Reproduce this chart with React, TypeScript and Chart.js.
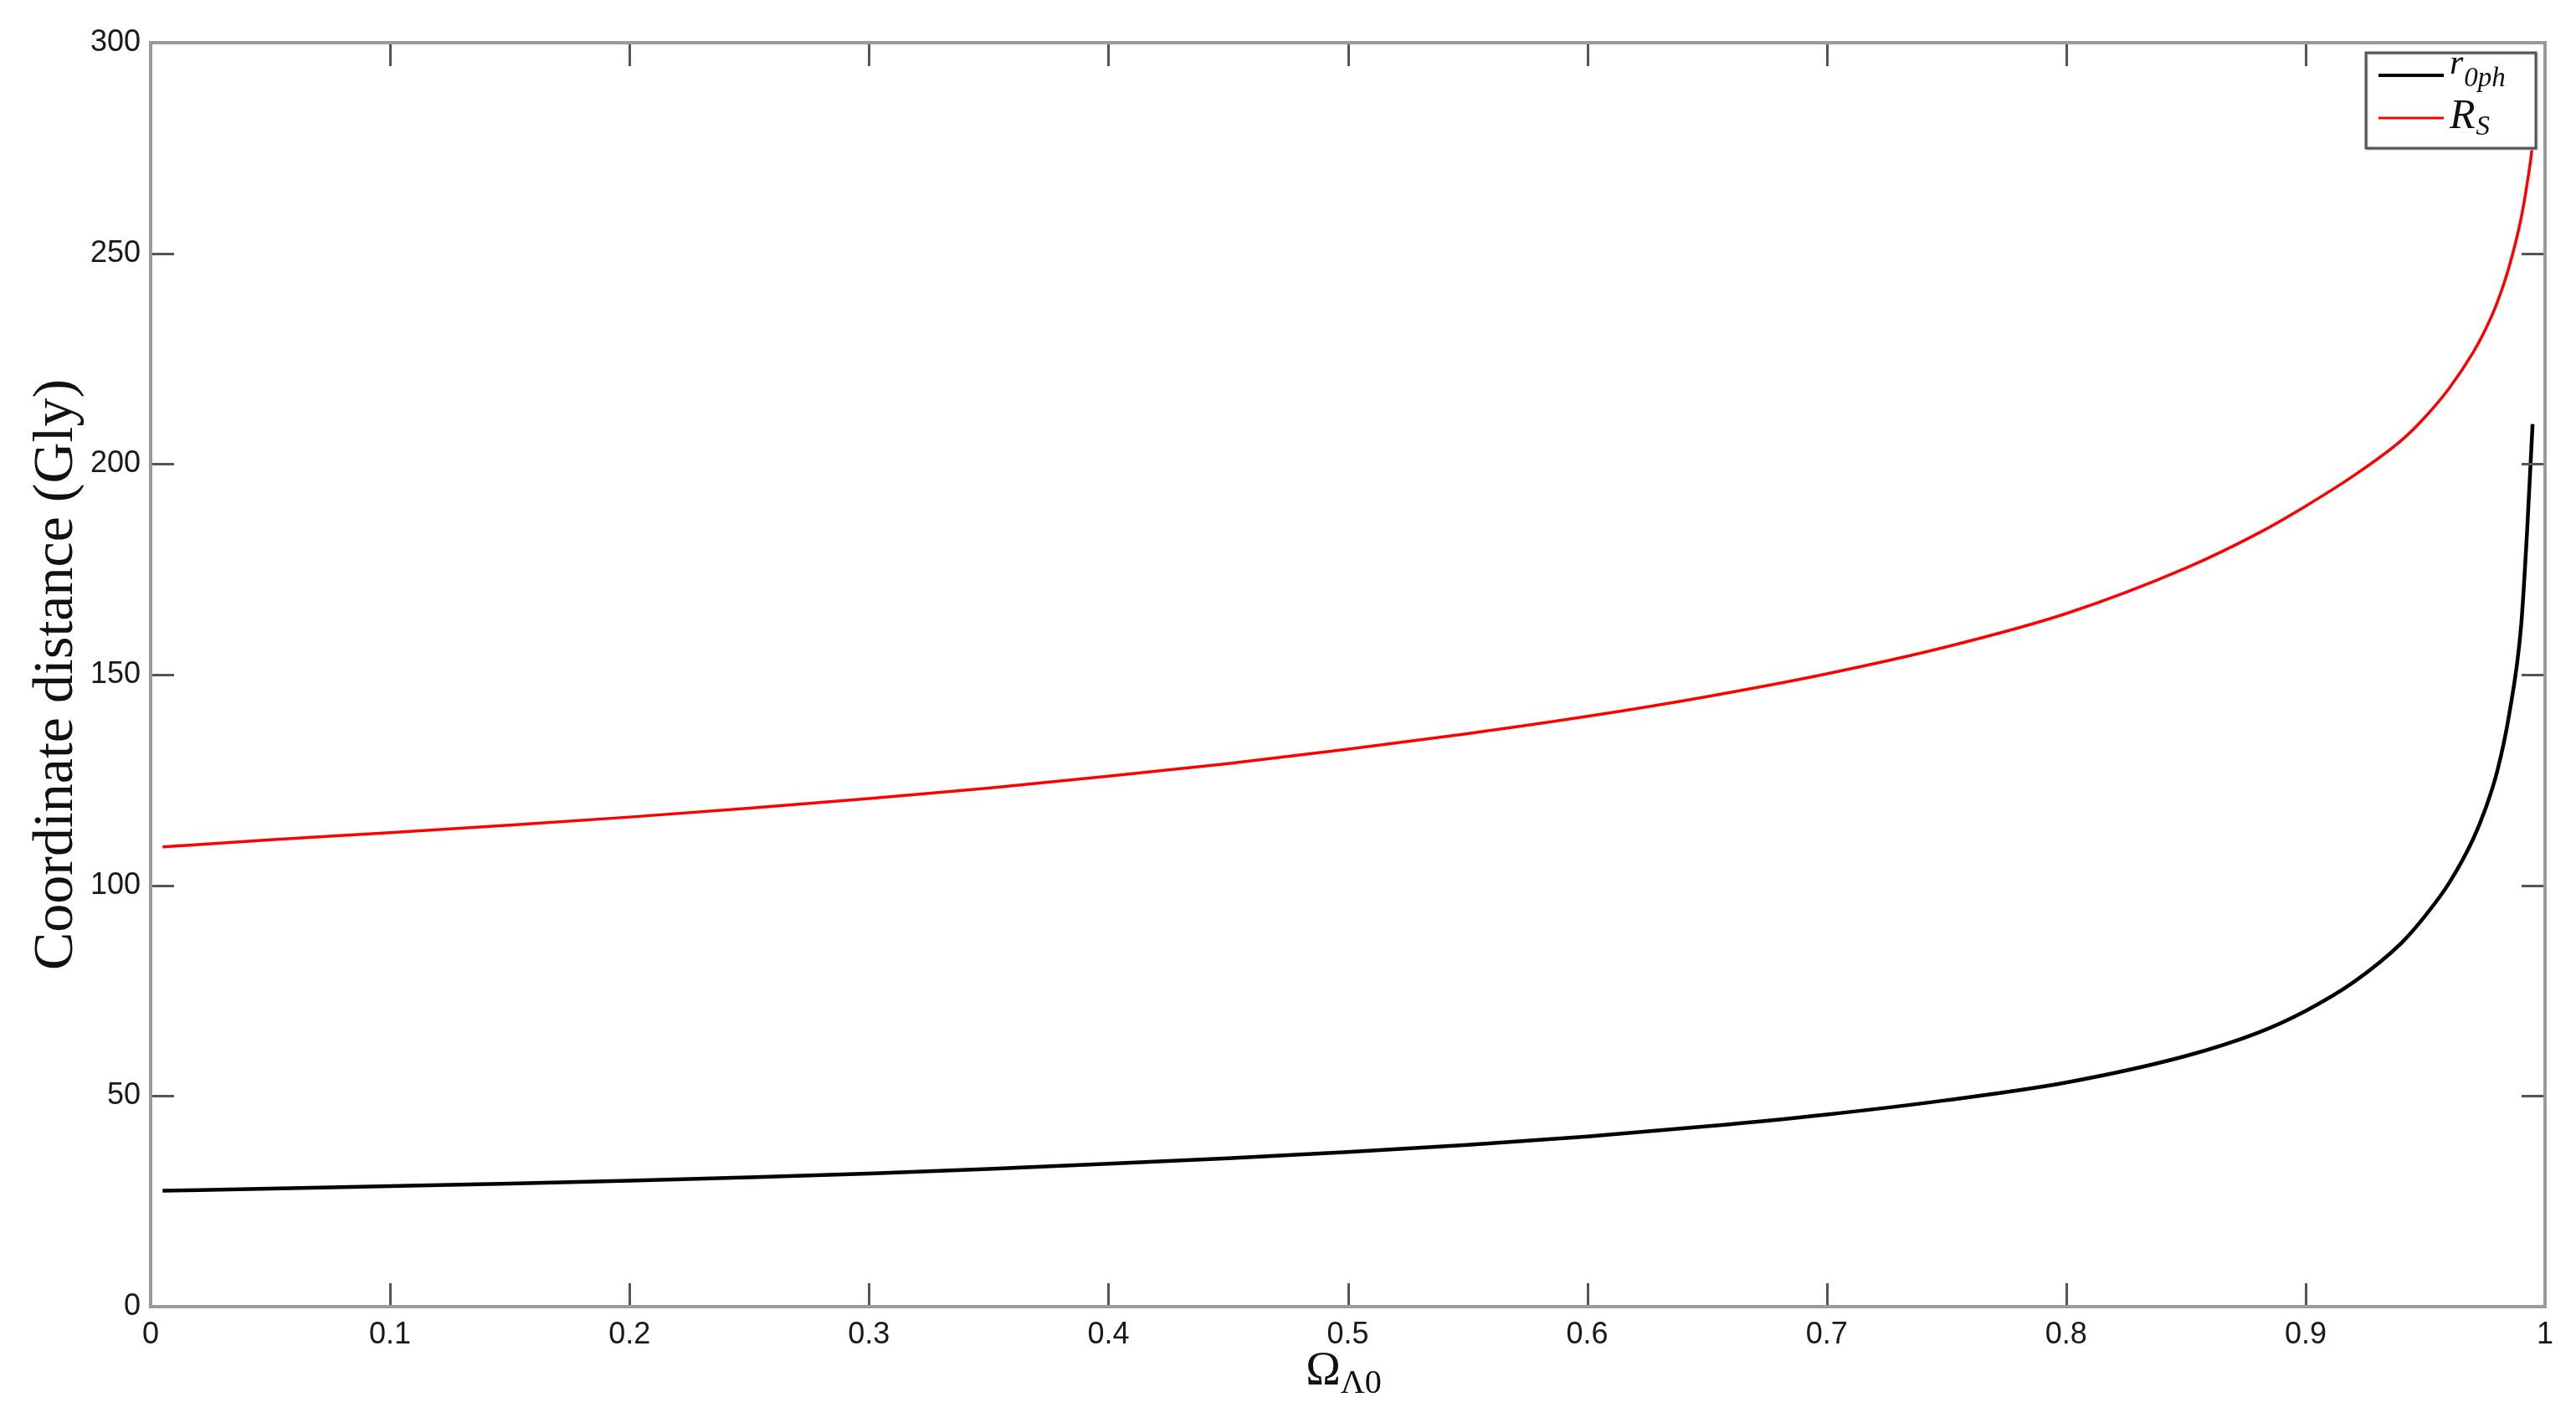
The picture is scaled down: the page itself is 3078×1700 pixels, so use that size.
import React, { useEffect, useRef } from "react";
import { Chart, registerables } from "chart.js";

Chart.register(...registerables);

// Ω_Λ0 values and curves
const omegaRS = [0.005, 0.05, 0.1, 0.15, 0.2, 0.25, 0.3, 0.35, 0.4, 0.45, 0.5, 0.55, 0.6, 0.65, 0.7, 0.75, 0.8, 0.85, 0.88, 0.9, 0.92, 0.94, 0.95, 0.96, 0.97, 0.975, 0.98, 0.985, 0.99, 0.9925, 0.995, 0.9962];
const rSValues = [109.1, 110.8, 112.5, 114.3, 116.2, 118.3, 120.6, 123.1, 125.9, 128.9, 132.3, 136, 140.1, 144.8, 150.2, 156.6, 164.5, 175.3, 183.5, 190, 197.2, 205.6, 211.2, 218, 226.5, 231.8, 238.3, 246.8, 258.3, 266.5, 277.5, 290];

const omegaR0 = [0.005, 0.05, 0.1, 0.15, 0.2, 0.25, 0.3, 0.35, 0.4, 0.45, 0.5, 0.55, 0.6, 0.65, 0.7, 0.75, 0.8, 0.85, 0.88, 0.9, 0.92, 0.94, 0.95, 0.96, 0.97, 0.975, 0.98, 0.985, 0.99, 0.9925, 0.9948];
const r0phValues = [27.5, 28.0, 28.6, 29.2, 29.9, 30.7, 31.6, 32.7, 33.9, 35.2, 36.7, 38.4, 40.4, 42.8, 45.6, 49.0, 53.2, 59.5, 65.0, 70.2, 77.0, 86.3, 92.8, 100.6, 111.0, 118.0, 127.0, 140.5, 161.5, 184.0, 209.5];

const legendMain = ["r", "R"];
const legendSub = ["0ph", "S"];
const legendColors = ["#000000", "#ff0000"];

const xTitleMain = "Ω";
const xTitleSub = "Λ0";
const yTitle = "Coordinate distance (Gly)";

const X_MIN = 0, X_MAX = 1, X_STEP = 0.1;
const Y_MIN = 0, Y_MAX = 300, Y_STEP = 50;

const TICK_LEN = 28;

const decorPlugin = {
  id: "decor",
  afterDatasetsDraw(chart: any) {
    const { ctx, chartArea: a, scales } = chart;
    const xs = scales.x;
    const ys = scales.y;
    ctx.save();
    // inward ticks on all sides
    ctx.strokeStyle = "#555555";
    ctx.lineWidth = 3;
    ctx.beginPath();
    xs.ticks.forEach((t: any) => {
      const px = Math.round(xs.getPixelForValue(t.value)) + 0.5;
      if (px <= a.left + 3 || px >= a.right - 3) return;
      ctx.moveTo(px, a.bottom);
      ctx.lineTo(px, a.bottom - TICK_LEN);
      ctx.moveTo(px, a.top);
      ctx.lineTo(px, a.top + TICK_LEN);
    });
    ys.ticks.forEach((t: any) => {
      const py = Math.round(ys.getPixelForValue(t.value)) + 0.5;
      if (py <= a.top + 3 || py >= a.bottom - 3) return;
      ctx.moveTo(a.left, py);
      ctx.lineTo(a.left + TICK_LEN, py);
      ctx.moveTo(a.right, py);
      ctx.lineTo(a.right - TICK_LEN, py);
    });
    ctx.stroke();
    // frame
    ctx.strokeStyle = "#9a9a9a";
    ctx.lineWidth = 4;
    ctx.strokeRect(a.left, a.top, a.right - a.left, a.bottom - a.top);

    // legend box
    const lx = a.right - 214, ly = a.top + 12, lw = 203, lh = 114;
    ctx.fillStyle = "#ffffff";
    ctx.fillRect(lx, ly, lw, lh);
    ctx.strokeStyle = "#bdbdbd";
    ctx.lineWidth = 2;
    ctx.strokeRect(lx + 1.5, ly + 1.5, lw, lh);
    ctx.strokeStyle = "#555555";
    ctx.lineWidth = 3;
    ctx.strokeRect(lx, ly, lw, lh);
    const rowsY = [ly + 27, ly + 78];
    const lineW = [4, 3];
    for (let i = 0; i < legendMain.length; i++) {
      const y = rowsY[i];
      ctx.strokeStyle = legendColors[i];
      ctx.lineWidth = lineW[i];
      ctx.beginPath();
      ctx.moveTo(lx + 15, y);
      ctx.lineTo(lx + 93, y);
      ctx.stroke();
      ctx.fillStyle = "#111111";
      ctx.textAlign = "left";
      ctx.textBaseline = "alphabetic";
      const mainSize = i === 0 ? 42 : 50;
      ctx.font = `italic ${mainSize}px "Liberation Serif", "DejaVu Serif", serif`;
      const tx = lx + 100;
      const base = i === 0 ? y - 2 : y + 12;
      ctx.fillText(legendMain[i], tx, base);
      const mw = ctx.measureText(legendMain[i]).width;
      ctx.font = `italic 33px "Liberation Serif", "DejaVu Serif", serif`;
      ctx.fillText(legendSub[i], tx + mw + 1, base + (i === 0 ? 15 : 8));
    }
    ctx.restore();
  },
  afterDraw(chart: any) {
    const { ctx, chartArea: a } = chart;
    ctx.save();
    ctx.fillStyle = "#111111";
    // x title with subscript
    ctx.textBaseline = "alphabetic";
    ctx.textAlign = "left";
    ctx.font = `56px "Liberation Serif", "DejaVu Serif", serif`;
    const wMain = ctx.measureText(xTitleMain).width;
    ctx.font = `40px "Liberation Serif", "DejaVu Serif", serif`;
    const wSub = ctx.measureText(xTitleSub).width;
    const cx = (a.left + a.right) / 2 - 5;
    const startX = cx - (wMain + wSub) / 2;
    ctx.font = `56px "Liberation Serif", "DejaVu Serif", serif`;
    ctx.fillText(xTitleMain, startX, 1654);
    ctx.font = `40px "Liberation Serif", "DejaVu Serif", serif`;
    ctx.fillText(xTitleSub, startX + wMain, 1664);
    // y title
    ctx.translate(86, (a.top + a.bottom) / 2);
    ctx.rotate(-Math.PI / 2);
    ctx.textAlign = "center";
    ctx.font = `68px "Liberation Serif", "DejaVu Serif", serif`;
    ctx.fillText(yTitle, 0, 0);
    ctx.restore();
  },
};

export default function App() {
  const canvasRef = useRef<HTMLCanvasElement | null>(null);

  useEffect(() => {
    const canvas = canvasRef.current;
    if (!canvas) return;
    const chart = new Chart(canvas, {
      type: "line",
      data: {
        datasets: [
          {
            label: "r0ph",
            data: omegaR0.map((x, i) => ({ x, y: r0phValues[i] })),
            borderColor: "#000000",
            borderWidth: 4.5,
            pointRadius: 0,
            fill: false,
            cubicInterpolationMode: "monotone",
          },
          {
            label: "RS",
            data: omegaRS.map((x, i) => ({ x, y: rSValues[i] })),
            borderColor: "#ff0000",
            borderWidth: 3.5,
            pointRadius: 0,
            fill: false,
            cubicInterpolationMode: "monotone",
          },
        ],
      },
      options: {
        animation: false,
        responsive: false,
        devicePixelRatio: 1,
        layout: { padding: { top: 51, right: 37, left: 0, bottom: 0 } },
        plugins: {
          legend: { display: false },
          tooltip: { enabled: false },
          title: { display: false },
        },
        scales: {
          x: {
            type: "linear",
            min: X_MIN,
            max: X_MAX,
            grid: { display: false, drawTicks: false },
            border: { display: false },
            ticks: {
              stepSize: X_STEP,
              padding: 12,
              maxRotation: 0,
              autoSkip: false,
              color: "#1a1a1a",
              font: { family: '"Liberation Sans", Arial, sans-serif', size: 36 },
              callback: (v: any) => String(Number(Number(v).toFixed(1))),
            },
            afterFit: (scale: any) => {
              scale.height = 139;
            },
          },
          y: {
            type: "linear",
            min: Y_MIN,
            max: Y_MAX,
            grid: { display: false, drawTicks: false },
            border: { display: false },
            ticks: {
              stepSize: Y_STEP,
              padding: 12,
              color: "#1a1a1a",
              font: { family: '"Liberation Sans", Arial, sans-serif', size: 36 },
            },
            afterFit: (scale: any) => {
              scale.width = 180;
            },
          },
        },
      },
      plugins: [decorPlugin],
    });
    return () => chart.destroy();
  }, []);

  return (
    <div style={{ position: "absolute", left: 0, top: 0, width: 3078, height: 1700, background: "#ffffff" }}>
      <canvas ref={canvasRef} width={3078} height={1700} style={{ width: 3078, height: 1700, display: "block" }} />
    </div>
  );
}
